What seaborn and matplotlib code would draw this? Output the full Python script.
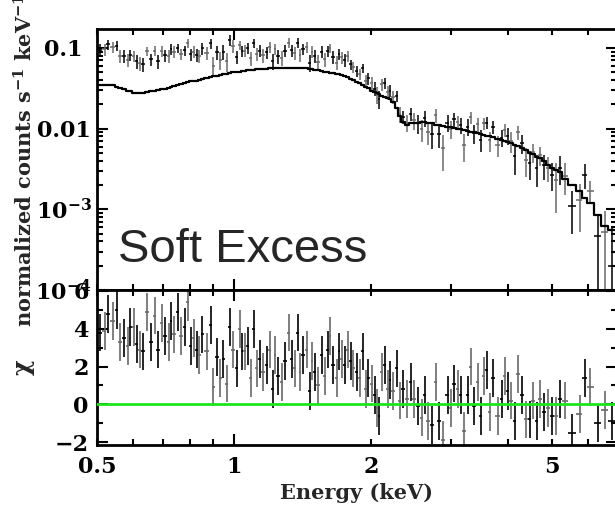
import numpy as np
import matplotlib
matplotlib.use("Agg")
import matplotlib.pyplot as plt
from matplotlib.ticker import FixedLocator, FuncFormatter, LogLocator, NullFormatter, MultipleLocator
import seaborn as sns

# Spectral bins: centre energy (keV)
energy = [0.508, 0.520, 0.528, 0.542, 0.553, 0.561, 0.573, 0.585, 0.591, 0.603,
          0.612, 0.621, 0.631, 0.644, 0.657, 0.670, 0.681, 0.695, 0.705, 0.720,
          0.727, 0.738, 0.753, 0.765, 0.780, 0.792, 0.805, 0.816, 0.829, 0.838,
          0.851, 0.872, 0.890, 0.899, 0.918, 0.932, 0.946, 0.965, 0.980, 0.995,
          1.015, 1.031, 1.041, 1.057, 1.073, 1.090, 1.106, 1.123, 1.141, 1.158,
          1.182, 1.200, 1.218, 1.231, 1.249, 1.275, 1.294, 1.320, 1.341, 1.361,
          1.382, 1.397, 1.418, 1.447, 1.469, 1.484, 1.506, 1.530, 1.560, 1.585,
          1.609, 1.625, 1.650, 1.684, 1.701, 1.727, 1.753, 1.780, 1.808, 1.826,
          1.863, 1.892, 1.921, 1.950, 1.970, 2.010, 2.041, 2.062, 2.082, 2.114,
          2.147, 2.180, 2.202, 2.236, 2.281, 2.316, 2.352, 2.400, 2.449, 2.486,
          2.537, 2.589, 2.629, 2.669, 2.723, 2.779, 2.821, 2.879, 2.953, 2.998,
          3.044, 3.106, 3.153, 3.202, 3.267, 3.317, 3.368, 3.437, 3.489, 3.543,
          3.598, 3.653, 3.709, 3.803, 3.880, 3.940, 4.000, 4.061, 4.144, 4.208,
          4.293, 4.380, 4.472, 4.539, 4.633, 4.704, 4.799, 4.897, 4.996, 5.098,
          5.205, 5.337, 5.529, 5.760, 5.905, 6.057, 6.307, 6.535, 6.770]

# Folded model in each bin (counts s^-1 keV^-1)
model = [0.035, 0.035, 0.035, 0.0345, 0.033, 0.032, 0.031, 0.0295, 0.029, 0.028,
         0.028, 0.028, 0.028, 0.0285, 0.029, 0.0295, 0.030, 0.031, 0.031, 0.032,
         0.0325, 0.0335, 0.0345, 0.0355, 0.0365, 0.0375, 0.0385, 0.0387, 0.0395, 0.040,
         0.041, 0.0425, 0.044, 0.045, 0.0455, 0.046, 0.047, 0.048, 0.049, 0.050,
         0.0505, 0.051, 0.0515, 0.052, 0.053, 0.054, 0.054, 0.0545, 0.055, 0.0552,
         0.0555, 0.056, 0.056, 0.056, 0.056, 0.056, 0.056, 0.056, 0.056, 0.056,
         0.056, 0.056, 0.056, 0.056, 0.055, 0.0545, 0.054, 0.053, 0.052, 0.051,
         0.050, 0.0495, 0.049, 0.0475, 0.047, 0.046, 0.045, 0.0435, 0.0415, 0.0405,
         0.038, 0.0365, 0.0347, 0.033, 0.032, 0.0296, 0.0283, 0.0275, 0.0267, 0.0257,
         0.025, 0.024, 0.023, 0.0215, 0.018, 0.0145, 0.012, 0.011, 0.0117, 0.0118,
         0.0119, 0.012, 0.012, 0.0119, 0.0117, 0.0112, 0.011, 0.0108, 0.0106, 0.0105,
         0.0103, 0.010, 0.0099, 0.0097, 0.0094, 0.0092, 0.009, 0.0088, 0.0086, 0.0084,
         0.0082, 0.008, 0.0078, 0.0074, 0.0072, 0.007, 0.0068, 0.0066, 0.0063, 0.0061,
         0.0057, 0.0054, 0.005, 0.0048, 0.0045, 0.0043, 0.004, 0.0035, 0.0033, 0.0031,
         0.0029, 0.0024, 0.002, 0.0017, 0.0014, 0.0012, 0.00085, 0.00063, 0.00055]

# Measured count rate and its 1-sigma error
flux = [0.0949, 0.0964, 0.1106, 0.1028, 0.1073, 0.0795, 0.0798, 0.0707, 0.0825, 0.0797,
        0.0683, 0.0645, 0.0633, 0.0913, 0.0721, 0.0919, 0.0692, 0.0910, 0.0812, 0.0795,
        0.0969, 0.0893, 0.0987, 0.0841, 0.0934, 0.1145, 0.0839, 0.0902, 0.0830, 0.0795,
        0.0986, 0.0877, 0.1142, 0.0604, 0.0887, 0.0705, 0.0899, 0.0681, 0.1253, 0.1051,
        0.0774, 0.1081, 0.0919, 0.0928, 0.0990, 0.0752, 0.1145, 0.0835, 0.0920, 0.0815,
        0.0881, 0.1015, 0.0685, 0.0968, 0.0795, 0.0748, 0.0921, 0.1156, 0.0936, 0.0858,
        0.1156, 0.0827, 0.0968, 0.1015, 0.0658, 0.0896, 0.0797, 0.0678, 0.0899, 0.0724,
        0.0906, 0.0994, 0.0778, 0.0661, 0.0838, 0.0769, 0.0715, 0.0788, 0.0625, 0.0574,
        0.0522, 0.0477, 0.0561, 0.0388, 0.0419, 0.0368, 0.0314, 0.0263, 0.0232, 0.0353,
        0.0366, 0.0282, 0.0296, 0.0248, 0.0255, 0.0151, 0.0141, 0.0118, 0.0152, 0.0127,
        0.0116, 0.0099, 0.0135, 0.0092, 0.0085, 0.0146, 0.0085, 0.0057, 0.0119, 0.0100,
        0.0131, 0.0120, 0.0111, 0.0063, 0.0106, 0.0138, 0.0088, 0.0114, 0.0073, 0.0116,
        0.0119, 0.0072, 0.0105, 0.0063, 0.0077, 0.0096, 0.0082, 0.0070, 0.0046, 0.0090,
        0.0066, 0.0041, 0.0038, 0.0051, 0.0033, 0.0047, 0.0035, 0.0033, 0.0027, 0.0023,
        0.0033, 0.0026, 0.0011, 0.0013, 0.0027, 0.0017, 0.00047, 0.00052, 0.00020]

flux_err = [0.0158, 0.0158, 0.0158, 0.0155, 0.0149, 0.0144, 0.0140, 0.0133, 0.0131, 0.0126,
            0.0126, 0.0126, 0.0126, 0.0128, 0.0131, 0.0133, 0.0135, 0.0140, 0.0140, 0.0144,
            0.0146, 0.0151, 0.0131, 0.0135, 0.0139, 0.0143, 0.0146, 0.0147, 0.0150, 0.0152,
            0.0156, 0.0162, 0.0167, 0.0171, 0.0173, 0.0175, 0.0179, 0.0182, 0.0186, 0.0190,
            0.0141, 0.0143, 0.0144, 0.0146, 0.0148, 0.0151, 0.0151, 0.0153, 0.0154, 0.0155,
            0.0155, 0.0157, 0.0157, 0.0157, 0.0157, 0.0157, 0.0157, 0.0157, 0.0157, 0.0157,
            0.0157, 0.0157, 0.0157, 0.0157, 0.0154, 0.0153, 0.0151, 0.0148, 0.0146, 0.0143,
            0.0140, 0.0139, 0.0137, 0.0133, 0.0132, 0.0129, 0.0126, 0.0122, 0.0091, 0.0089,
            0.0084, 0.0080, 0.0076, 0.0073, 0.0070, 0.0065, 0.0062, 0.0061, 0.0059, 0.0057,
            0.0055, 0.0053, 0.0051, 0.0047, 0.0040, 0.0032, 0.0026, 0.0028, 0.0029, 0.0030,
            0.0030, 0.0030, 0.0030, 0.0030, 0.0029, 0.0028, 0.0028, 0.0027, 0.0027, 0.0026,
            0.0026, 0.0025, 0.0025, 0.0024, 0.0024, 0.0023, 0.0023, 0.0022, 0.0022, 0.0021,
            0.0021, 0.0020, 0.0020, 0.0019, 0.0018, 0.0018, 0.0020, 0.0020, 0.0019, 0.0018,
            0.0017, 0.0016, 0.0015, 0.0014, 0.0014, 0.0013, 0.0012, 0.0011, 0.0010, 0.0014,
            0.0013, 0.0011, 0.0006, 0.00077, 0.0009, 0.00054, 0.00038, 0.00044, 0.00039]

# Residuals (data - model) / error
chi = [3.8, 3.9, 4.8, 4.4, 5.0, 3.3, 3.5, 3.1, 4.1, 4.1,
       3.2, 2.9, 2.8, 4.9, 3.3, 4.7, 2.9, 4.3, 3.6, 3.3,
       4.4, 3.7, 4.9, 3.6, 4.1, 5.4, 3.1, 3.5, 2.9, 2.6,
       3.7, 2.8, 4.2, 0.9, 2.5, 1.4, 2.4, 1.1, 4.1, 2.9,
       1.9, 4.0, 2.8, 2.8, 3.1, 1.4, 4.0, 1.9, 2.4, 1.7,
       2.1, 2.9, 0.8, 2.6, 1.5, 1.2, 2.3, 3.8, 2.4, 1.9,
       3.8, 1.7, 2.6, 2.9, 0.7, 2.3, 1.7, 1.0, 2.6, 1.5,
       2.9, 3.6, 2.1, 1.4, 2.8, 2.4, 2.1, 2.9, 2.3, 1.9,
       1.7, 1.4, 2.8, 0.8, 1.4, 1.1, 0.5, -0.2, -0.6, 1.7,
       2.1, 0.8, 1.3, 0.7, 1.9, 0.2, 0.8, 0.3, 1.2, 0.3,
       -0.1, -0.7, 0.5, -0.9, -1.1, 1.2, -0.9, -1.9, 0.5, -0.2,
       1.1, 0.8, 0.5, -1.4, 0.5, 2.0, -0.1, 1.2, -0.6, 1.5,
       1.8, -0.4, 1.4, -0.6, 0.3, 1.5, 0.7, 0.2, -0.9, 1.6,
       0.5, -0.8, -0.8, 0.2, -0.9, 0.3, -0.4, -0.2, -0.6, -0.6,
       0.3, 0.2, -1.5, -0.5, 1.4, 0.9, -1.0, -0.3, -0.9]

x_ticks_labeled = [0.5, 1, 2, 5]
flux_tick_labels = {0.1: "0.1", 0.01: "0.01", 1e-3: "$10^{-3}$", 1e-4: "$10^{-4}$"}

sns.set_theme(style="ticks")
plt.rcParams.update({
    "font.family": ["DejaVu Serif"],
    "font.weight": "bold",
    "mathtext.fontset": "dejavuserif",
    "mathtext.default": "bf",
    "axes.linewidth": 2.0,
    "axes.edgecolor": "black",
    "xtick.color": "black",
    "ytick.color": "black",
    "xtick.labelsize": 16,
    "ytick.labelsize": 16,
})

E = np.array(energy)
M = np.array(model)
F = np.array(flux)
Ferr = np.array(flux_err)
C = np.array(chi)

# bin edges halfway (in log) between neighbouring bin centres
edges = np.empty(len(E) + 1)
edges[1:-1] = np.sqrt(E[:-1] * E[1:])
edges[0] = E[0] ** 2 / edges[1]
edges[-1] = E[-1] ** 2 / edges[-2]
xerr = np.vstack([E - edges[:-1], edges[1:] - E])

W, H = 615, 507
fig = plt.figure(figsize=(W / 100, H / 100), dpi=100)


def box(left, top, right, bottom):
    return [left / W, 1 - bottom / H, (right - left) / W, (bottom - top) / H]


ax1 = fig.add_axes(box(97, 29, 617, 290))
ax2 = fig.add_axes(box(97, 290, 617, 445))
for ax in (ax1, ax2):
    ax.set_xscale("log")
    ax.set_xlim(0.5, 6.95)
ax1.set_yscale("log")
ax1.set_ylim(1e-4, 0.172)
ax2.set_ylim(-2.15, 6.05)

colors = ["black", "#6a6a6a"]
for j in (0, 1):
    sel = slice(j, None, 2)
    ax1.errorbar(E[sel], F[sel], yerr=Ferr[sel], xerr=xerr[:, sel], fmt="none",
                 ecolor=colors[j], elinewidth=1.1, capsize=0)
    ax2.errorbar(E[sel], C[sel], yerr=1.0, xerr=xerr[:, sel], fmt="none",
                 ecolor=colors[j], elinewidth=1.2, capsize=0)

# model as a histogram over the bins
sns.lineplot(x=edges, y=np.append(M, M[-1]), ax=ax1, drawstyle="steps-post",
             color="black", linewidth=1.6, estimator=None)
ax2.axhline(0, color="#1ee61e", linewidth=2.0, zorder=5)

for ax in (ax1, ax2):
    ax.tick_params(which="both", direction="in", top=True, right=True, width=1.5)
    ax.tick_params(which="major", length=8)
    ax.tick_params(which="minor", length=4)
    ax.xaxis.set_major_locator(FixedLocator([1]))
    ax.xaxis.set_minor_locator(FixedLocator([0.5, 0.6, 0.7, 0.8, 0.9, 2, 3, 4, 5, 6]))

ax1.xaxis.set_major_formatter(NullFormatter())
ax1.xaxis.set_minor_formatter(NullFormatter())
ax2.xaxis.set_major_formatter(FuncFormatter(lambda v, p: f"{v:g}" if v in x_ticks_labeled else ""))
ax2.xaxis.set_minor_formatter(FuncFormatter(lambda v, p: f"{v:g}" if v in x_ticks_labeled else ""))
ax2.tick_params(axis="x", which="both", pad=8)

ax1.yaxis.set_major_locator(LogLocator(base=10, numticks=10))
ax1.yaxis.set_minor_locator(LogLocator(base=10, subs=np.arange(2, 10), numticks=10))
ax1.yaxis.set_minor_formatter(NullFormatter())
ax1.yaxis.set_major_formatter(FuncFormatter(
    lambda v, p: next((s for k, s in flux_tick_labels.items() if np.isclose(v, k)), "")))
ax1.tick_params(axis="y", which="major", pad=24)
for lab in ax1.get_yticklabels():
    lab.set_horizontalalignment("center")

ax2.yaxis.set_major_locator(MultipleLocator(2))
ax2.yaxis.set_minor_locator(MultipleLocator(1))
ax2.yaxis.set_major_formatter(FuncFormatter(lambda v, p: f"{v:g}".replace("-", "\u2212")))
ax2.tick_params(axis="y", which="major", pad=6)

for ax in (ax1, ax2):
    for lab in ax.get_xticklabels(which="both") + ax.get_yticklabels():
        lab.set_fontweight("bold")

fig.text(25 / W, 1 - 160 / H, "normalized counts s$^{-1}$ keV$^{-1}$", rotation=90,
         ha="center", va="center", fontsize=15, fontweight="bold")
fig.text(25 / W, 1 - 368 / H, r"$\chi$", rotation=90, ha="center", va="center", fontsize=17)
fig.text(357 / W, 1 - 493 / H, "Energy (keV)", ha="center", va="center",
         fontsize=15, fontweight="bold")
fig.text(118 / W, 1 - 262 / H, "Soft Excess", family=["Liberation Sans"],
         fontweight="normal", fontsize=34, ha="left", va="baseline")

fig.savefig("out.png", dpi=100)
